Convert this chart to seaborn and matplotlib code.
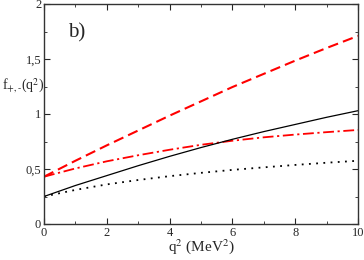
import numpy as np
import pandas as pd
import matplotlib
matplotlib.use("Agg")
import matplotlib.pyplot as plt
import seaborn as sns
from matplotlib.ticker import MultipleLocator, FuncFormatter

# values, at integer q^2
Q2 = [0, 1, 2, 3, 4, 5, 6, 7, 8, 9, 10]
F_RED_DASH = [0.43, 0.575, 0.715, 0.85, 0.985, 1.115, 1.245, 1.365, 1.485, 1.60, 1.71]
F_RED_DASHDOT = [0.43, 0.505, 0.57, 0.625, 0.675, 0.72, 0.757, 0.788, 0.813, 0.835, 0.855]
F_BLACK_SOLID = [0.25, 0.35, 0.44, 0.53, 0.615, 0.695, 0.77, 0.84, 0.905, 0.97, 1.03]
F_BLACK_DOT = [0.25, 0.31, 0.36, 0.40, 0.435, 0.465, 0.492, 0.515, 0.537, 0.557, 0.575]

sns.set_style("ticks")
plt.rcParams["font.family"] = ["Liberation Serif", "DejaVu Serif"]
plt.rcParams["mathtext.fontset"] = "stix"

df = pd.DataFrame({"q2": Q2, "dash": F_RED_DASH, "dashdot": F_RED_DASHDOT,
                   "solid": F_BLACK_SOLID, "dot": F_BLACK_DOT})

fig = plt.figure(figsize=(3.64, 2.60), dpi=100)
ax = fig.add_axes([44 / 364, 36 / 260, 314 / 364, 220 / 260])

sns.lineplot(data=df, x="q2", y="dash", color="red", lw=1.5,
             linestyle=(0, (5, 2.5)), ax=ax)
sns.lineplot(data=df, x="q2", y="dashdot", color="red", lw=1.3,
             linestyle=(0, (6, 2, 1.2, 2)), ax=ax)
sns.lineplot(data=df, x="q2", y="solid", color="black", lw=0.9, ax=ax)
sns.lineplot(data=df, x="q2", y="dot", color="black", lw=1.3,
             linestyle=(0, (1, 3)), ax=ax)

ax.set_xlim(0, 10)
ax.set_ylim(0, 2)
ax.xaxis.set_major_locator(MultipleLocator(2))
ax.xaxis.set_minor_locator(MultipleLocator(1))
ax.yaxis.set_major_locator(MultipleLocator(0.5))
ax.yaxis.set_minor_locator(MultipleLocator(0.25))
ax.yaxis.set_major_formatter(FuncFormatter(lambda v, _: f"{v:g}".replace(".", ",")))
ax.tick_params(which="both", direction="in", top=True, right=True,
               labelsize=9, pad=2)
ax.tick_params(which="major", length=4)
ax.tick_params(which="minor", length=2)
for s in ax.spines.values():
    s.set_linewidth(1.0)
    s.set_color("#333333")

ax.set_xlabel("")
ax.set_ylabel("")
fig.text(201 / 364, 1 - 247 / 260, r"q$^2$ (MeV$^2$)", fontsize=11,
         ha="center", va="center")
fig.text(2 / 364, 1 - 86 / 260, r"f$_{+,\text{-}}$(q$^2$)", fontsize=10,
         ha="left", va="center")
ax.text(0.075, 0.87, "b)", transform=ax.transAxes, fontsize=15,
        va="center", ha="left")

fig.savefig("out.png", dpi=100)
